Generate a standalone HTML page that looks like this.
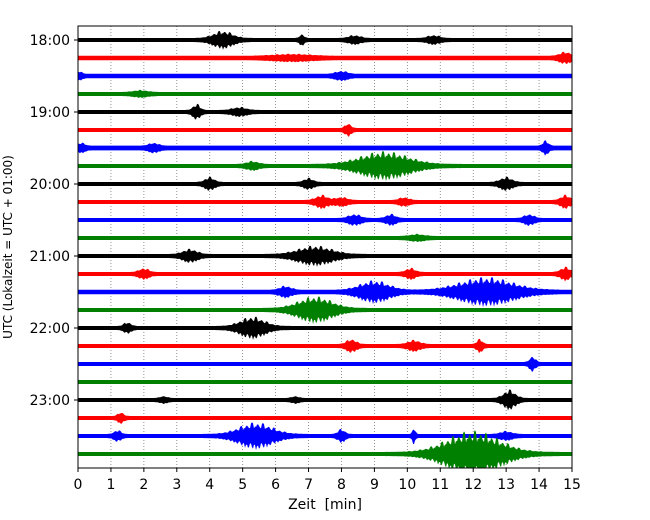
<!DOCTYPE html>
<html><head><meta charset="utf-8"><style>
body{margin:0;background:#fff;}
svg{display:block;font-family:"DejaVu Sans","Liberation Sans",sans-serif;}
</style></head><body>
<svg id="c" width="650" height="520"></svg>
<script>
const traceColors=["#000000","#ff0000","#0000ff","#008000"];
const hourLabels=["18:00","19:00","20:00","21:00","22:00","23:00"];
const xTicks=[0,1,2,3,4,5,6,7,8,9,10,11,12,13,14,15];
const baseNoise=[2,2.2,2.2,2,2,2,2.4,2,2,2,2,2,2,2,2.2,2,2,2,2,2,2,2,2,2];
// events: trace index, center minute, half-width minute, amplitude
const evTrace=[0,0,0,0,1,1,2,2,3,4,4,5,6,6,6,7,7,8,8,8,9,9,9,9,10,10,10,11,12,12,13,13,13,14,14,14,15,16,16,17,17,17,18,20,20,20,21,22,22,22,22,22,23];
const evTime=[4.4,6.8,8.4,10.8,6.5,14.8,0.0,8.0,1.9,3.6,4.9,8.2,0.1,2.3,14.2,5.3,9.3,4.0,7.0,13.0,7.4,8.0,9.9,14.8,8.4,9.5,13.7,10.3,3.4,7.2,2.0,10.1,14.8,6.3,9.0,12.4,7.2,1.5,5.3,8.3,10.2,12.2,13.8,2.6,6.6,13.1,1.3,1.2,5.4,8.0,10.2,13.0,12.0];
const evWidth=[0.4,0.1,0.25,0.25,0.8,0.25,0.15,0.25,0.3,0.15,0.3,0.12,0.15,0.2,0.12,0.25,1.0,0.2,0.2,0.25,0.25,0.25,0.2,0.2,0.25,0.2,0.2,0.3,0.3,0.7,0.2,0.2,0.2,0.25,0.6,1.1,0.7,0.15,0.5,0.2,0.25,0.12,0.12,0.15,0.15,0.25,0.12,0.15,0.7,0.15,0.06,0.25,1.1];
const evAmp=[7,4,3,3,2,4,3,3,2,6,3,5,3,3,5,3,12,5,4,5,5,3,3,5,4,4,4,2,5,8,4,4,5,4,9,12,11,4,9,5,4,5,6,2,2,8,4,4,11,5,7,3,20];

const svg=document.getElementById('c');const NS="http://www.w3.org/2000/svg";
const L=78,R=572,T=26,B=468;
const xS=m=>L+(m-0)/(15-0)*(R-L);
const yS=i=>40+18*i;
function mk(t,a){const e=document.createElementNS(NS,t);for(const k in a)e.setAttribute(k,a[k]);svg.appendChild(e);return e;}
const defs=mk('defs',{});const cp=document.createElementNS(NS,'clipPath');cp.setAttribute('id','pc');
const cr=document.createElementNS(NS,'rect');cr.setAttribute('x',L);cr.setAttribute('y',T);cr.setAttribute('width',R-L);cr.setAttribute('height',B-T);cp.appendChild(cr);defs.appendChild(cp);
xTicks.forEach(t=>{if(t>0&&t<15){const g=mk('line',{x1:xS(t),x2:xS(t),y1:T,y2:B,stroke:'#777','stroke-width':0.8,'stroke-dasharray':'1,2'});

}});
const gp=mk('g',{'clip-path':'url(#pc)'});
const jit=[1,0.55,0.9,0.7,1.1,0.6,0.85,0.5,1,0.75,0.65];
for(let i=0;i<24;i++){
  const y=yS(i),col=traceColors[i%4];
  let top=[],bot=[];
  for(let px=L;px<=R;px+=1){
    const m=(px-L)/(R-L)*15;let a=0;
    for(let k=0;k<evTrace.length;k++){if(evTrace[k]!==i)continue;const d=(m-evTime[k])/evWidth[k];a+=evAmp[k]*Math.exp(-d*d);}
    const j1=jit[(px*7+i)%11],j2=jit[(px*5+i*3)%11];
    top.push(px+','+(y-baseNoise[i]-a*j1).toFixed(1));bot.unshift(px+','+(y+baseNoise[i]+a*j2).toFixed(1));
  }
  const p=document.createElementNS(NS,'polygon');p.setAttribute('points',top.concat(bot).join(' '));p.setAttribute('fill',col);
  
  
  gp.appendChild(p);
}
const fr=mk('rect',{x:L,y:T,width:R-L,height:B-T,fill:'none',stroke:'#000','stroke-width':1});


xTicks.forEach(t=>{mk('line',{x1:xS(t),x2:xS(t),y1:B,y2:B+4,stroke:'#000'});
const tx=mk('text',{x:xS(t),y:B+21,'text-anchor':'middle','font-size':14});tx.textContent=t;

});
hourLabels.forEach((h,k)=>{const y=yS(k*4);mk('line',{x1:L-4,x2:L,y1:y,y2:y,stroke:'#000'});
const tx=mk('text',{x:L-8,y:y+5,'text-anchor':'end','font-size':14});tx.textContent=h;

});
const xl=mk('text',{x:325,y:509,'text-anchor':'middle','font-size':14});xl.textContent='Zeit\u00a0\u00a0[min]';


const yl=mk('text',{x:0,y:0,'text-anchor':'middle','font-size':12,transform:'translate(12,247) rotate(-90)'});yl.textContent='UTC (Lokalzeit = UTC + 01:00)';


</script>
</body></html>
